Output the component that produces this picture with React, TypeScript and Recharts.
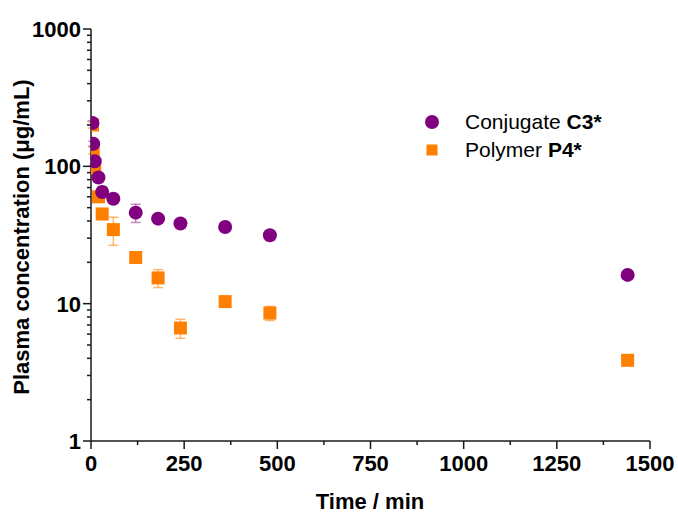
import { ErrorBar, Legend, Scatter, ScatterChart, XAxis, YAxis } from 'recharts';

const timePoints = [4, 6, 10, 20, 30, 60, 120, 180, 240, 360, 480, 1440];

const conjugateC3 = [207, 146, 109, 83, 65, 58, 46, 41.6, 38.3, 36.2, 31.5, 16.2];
const conjugateC3Err = [8, 6, 5, 4, 6, 4, 7, 2, 2, 2, 2, 0.8];

const polymerP4 = [200, 131, 97, 60, 45, 34.6, 21.7, 15.4, 6.65, 10.35, 8.55, 3.87];
const polymerP4Err = [10, 8, 6, 5, 4, 8, 1, 2.3, 1.05, 0.5, 1.0, 0.2];

const xTicks = [0, 125, 250, 375, 500, 625, 750, 875, 1000, 1125, 1250, 1375, 1500];
const xLabelTicks = [0, 250, 500, 750, 1000, 1250, 1500];

const yTicks = [
  1, 2, 3, 4, 5, 6, 7, 8, 9, 10, 20, 30, 40, 50, 60, 70, 80, 90, 100, 200, 300,
  400, 500, 600, 700, 800, 900, 1000,
];
const yLabelTicks = [1, 10, 100, 1000];

const seriesNames = ['Conjugate', 'Polymer'];
const seriesCodes = ['C3*', 'P4*'];

const PURPLE = '#800080';
const ORANGE = '#ff8000';
const AXIS = '#1a1a1a';
const FONT = '"Liberation Sans", Arial, sans-serif';

const conjugateData = timePoints.map((time, i) => ({
  time,
  value: conjugateC3[i],
  err: conjugateC3Err[i],
}));

const polymerData = timePoints.map((time, i) => ({
  time,
  value: polymerP4[i],
  err: polymerP4Err[i],
}));

function XTick(props: any) {
  const { x, y, payload } = props;
  const major = xLabelTicks.includes(payload.value);
  return (
    <g>
      <line x1={x} y1={y} x2={x} y2={y + (major ? 8 : 4)} stroke={AXIS} strokeWidth={1.5} />
      {major && (
        <text
          x={x}
          y={y + 30}
          textAnchor="middle"
          fontFamily={FONT}
          fontWeight="bold"
          fontSize={22}
          fill="#000"
        >
          {payload.value}
        </text>
      )}
    </g>
  );
}

function YTick(props: any) {
  const { x, y, payload } = props;
  const major = yLabelTicks.includes(payload.value);
  return (
    <g>
      <line x1={x - (major ? 8 : 4)} y1={y} x2={x} y2={y} stroke={AXIS} strokeWidth={1.5} />
      {major && (
        <text
          x={x - 10}
          y={y + 8}
          textAnchor="end"
          fontFamily={FONT}
          fontWeight="bold"
          fontSize={22}
          fill="#000"
        >
          {payload.value}
        </text>
      )}
    </g>
  );
}

function YTitle() {
  return (
    <text
      x={29}
      y={237}
      transform="rotate(-90 29 237)"
      textAnchor="middle"
      fontFamily={FONT}
      fontWeight="bold"
      fontSize={22}
      fill="#000"
    >
      Plasma concentration (μg/mL)
    </text>
  );
}

function XTitle() {
  return (
    <text
      x={370}
      y={509}
      textAnchor="middle"
      fontFamily={FONT}
      fontWeight="bold"
      fontSize={22}
      fill="#000"
    >
      Time / min
    </text>
  );
}

function renderLegend() {
  const colors = [PURPLE, ORANGE];
  return (
    <div style={{ fontFamily: FONT, fontSize: 21, color: '#000' }}>
      {seriesNames.map((name, i) => (
        <div key={name} style={{ display: 'flex', alignItems: 'center', height: 28 }}>
          <svg width={16} height={16} style={{ display: 'block' }}>
            {i === 0 ? (
              <circle cx={8} cy={8} r={7} fill={colors[i]} />
            ) : (
              <rect x={2.5} y={2.5} width={11} height={11} fill={colors[i]} />
            )}
          </svg>
          <span style={{ marginLeft: 25, whiteSpace: 'nowrap' }}>
            {name} <b>{seriesCodes[i]}</b>
          </span>
        </div>
      ))}
    </div>
  );
}

const circleShape = (props: any) => (
  <circle cx={props.cx} cy={props.cy} r={7} fill={PURPLE} />
);

const squareShape = (props: any) => (
  <rect x={props.cx - 6.5} y={props.cy - 6.5} width={13} height={13} fill={ORANGE} />
);

export default function App() {
  return (
    <div style={{ position: 'absolute', left: 0, top: 0, background: '#fff' }}>
      <ScatterChart
        width={678}
        height={513}
        margin={{ top: 29, right: 28, bottom: 0, left: 0 }}
      >
        <XAxis
          dataKey="time"
          type="number"
          domain={[0, 1500]}
          ticks={xTicks}
          interval={0}
          allowDataOverflow
          height={72}
          tickSize={0}
          tickMargin={0}
          tickLine={false}
          tick={(p: any) => <XTick {...p} />}
          axisLine={{ stroke: AXIS, strokeWidth: 1.5 }}
          label={<XTitle />}
        />
        <XAxis
          xAxisId="top"
          orientation="top"
          type="number"
          domain={[0, 1500]}
          height={0}
          tick={false}
          tickLine={false}
          axisLine={{ stroke: AXIS, strokeWidth: 1.5 }}
        />
        <YAxis
          dataKey="value"
          type="number"
          scale="log"
          domain={[1, 1000]}
          ticks={yTicks}
          interval={0}
          allowDataOverflow
          width={91}
          tickSize={0}
          tickMargin={0}
          tickLine={false}
          tick={(p: any) => <YTick {...p} />}
          axisLine={{ stroke: AXIS, strokeWidth: 1.5 }}
          label={<YTitle />}
        />
        <YAxis
          yAxisId="right"
          orientation="right"
          type="number"
          domain={[0, 1]}
          width={0}
          tick={false}
          tickLine={false}
          axisLine={{ stroke: AXIS, strokeWidth: 1.5 }}
        />
        <Legend
          layout="vertical"
          align="center"
          verticalAlign="middle"
          content={renderLegend}
          wrapperStyle={{ position: 'absolute', left: 424, top: 108, width: 'auto', height: 'auto' }}
        />
        <Scatter
          name="Polymer P4*"
          data={polymerData}
          fill={ORANGE}
          shape={squareShape}
          isAnimationActive={false}
        >
          <ErrorBar
            dataKey="err"
            direction="y"
            width={5}
            stroke={ORANGE}
            strokeOpacity={0.55}
            strokeWidth={1.5}
          />
        </Scatter>
        <Scatter
          name="Conjugate C3*"
          data={conjugateData}
          fill={PURPLE}
          shape={circleShape}
          isAnimationActive={false}
        >
          <ErrorBar
            dataKey="err"
            direction="y"
            width={5}
            stroke={PURPLE}
            strokeOpacity={0.45}
            strokeWidth={1.5}
          />
        </Scatter>
      </ScatterChart>
    </div>
  );
}
